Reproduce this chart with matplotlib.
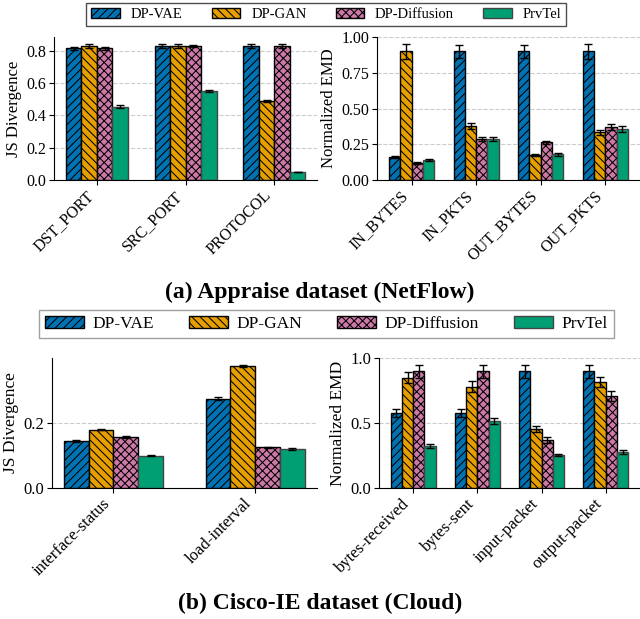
import numpy as np
import matplotlib
matplotlib.use("Agg")
import matplotlib.pyplot as plt
from matplotlib.patches import Patch

plt.rcParams.update({
    "font.family": "serif",
    "font.serif": ["Liberation Serif", "DejaVu Serif"],
    "hatch.linewidth": 0.75,
})

methods = ["DP-VAE", "DP-GAN", "DP-Diffusion", "PrvTel"]
COLORS = ["#0072B2", "#E69F00", "#CC79A7", "#009E73"]
HATCHES = ["////", "\\\\\\\\", "xxxx", ""]
EDGES = ["black", "black", "black", "#444444"]

# (a) Appraise dataset (NetFlow)
a_js_feats = ["DST_PORT", "SRC_PORT", "PROTOCOL"]
a_js_vals = [[0.815, 0.83, 0.83],   # DP-VAE
             [0.83, 0.83, 0.49],    # DP-GAN
             [0.815, 0.83, 0.83],   # DP-Diffusion
             [0.455, 0.55, 0.05]]   # PrvTel
a_js_err = [[0.010, 0.012, 0.010],
            [0.010, 0.012, 0.005],
            [0.008, 0.006, 0.010],
            [0.008, 0.008, 0.002]]

a_emd_feats = ["IN_BYTES", "IN_PKTS", "OUT_BYTES", "OUT_PKTS"]
a_emd_vals = [[0.16, 0.90, 0.90, 0.90],
              [0.90, 0.38, 0.175, 0.335],
              [0.12, 0.29, 0.265, 0.37],
              [0.14, 0.29, 0.18, 0.36]]
a_emd_err = [[0.008, 0.045, 0.045, 0.05],
             [0.05, 0.02, 0.008, 0.018],
             [0.006, 0.015, 0.012, 0.02],
             [0.006, 0.015, 0.01, 0.02]]

# (b) Cisco-IE dataset (Cloud)
b_js_feats = ["interface-status", "load-interval"]
b_js_vals = [[0.145, 0.275],
             [0.18, 0.375],
             [0.157, 0.125],
             [0.10, 0.12]]
b_js_err = [[0.002, 0.004],
            [0.002, 0.004],
            [0.002, 0.001],
            [0.002, 0.002]]

b_emd_feats = ["bytes-received", "bytes-sent", "input-packet", "output-packet"]
b_emd_vals = [[0.575, 0.575, 0.90, 0.90],
              [0.85, 0.78, 0.455, 0.815],
              [0.90, 0.90, 0.37, 0.71],
              [0.32, 0.515, 0.255, 0.275]]
b_emd_err = [[0.03, 0.03, 0.05, 0.05],
             [0.04, 0.04, 0.025, 0.04],
             [0.05, 0.05, 0.02, 0.04],
             [0.015, 0.025, 0.01, 0.015]]

W = 0.175


def panel(ax, feats, vals, errs, ylabel, fs, yticks=None, ylim=None, lfs=None):
    x = np.arange(len(feats))
    for i, m in enumerate(methods):
        ax.bar(x + (i - 1.5) * W, vals[i], W, yerr=errs[i], color=COLORS[i],
               hatch=HATCHES[i], edgecolor=EDGES[i], linewidth=1.0,
               error_kw=dict(ecolor="black", elinewidth=1.0, capsize=3, capthick=1.0))
    ax.set_xticks(x)
    ax.set_xticklabels(feats, rotation=45, ha="right", fontsize=fs)
    ax.tick_params(axis="y", labelsize=fs, pad=2)
    ax.tick_params(axis="x", pad=2)
    ax.set_ylabel(ylabel, fontsize=lfs or fs, labelpad=3)
    if ylim is not None:
        ax.set_ylim(*ylim)
    if yticks is not None:
        ax.set_yticks(yticks)
    ax.yaxis.grid(True, linestyle="--", color="#cccccc", linewidth=0.8)
    ax.set_axisbelow(True)
    for s in ("top", "right"):
        ax.spines[s].set_visible(False)


fig = plt.figure(figsize=(6.4, 6.19), dpi=100)

ax1 = fig.add_axes([0.084, 0.709, 0.412, 0.231])
panel(ax1, a_js_feats, a_js_vals, a_js_err, "JS Divergence", 11.5,
      yticks=[0.0, 0.2, 0.4, 0.6, 0.8], lfs=12)
ax2 = fig.add_axes([0.589, 0.709, 0.411, 0.231])
panel(ax2, a_emd_feats, a_emd_vals, a_emd_err, "Normalized EMD", 11.5,
      yticks=[0.0, 0.25, 0.5, 0.75, 1.0], ylim=(0, 1.0), lfs=12)
ax2.set_yticklabels(["0.00", "0.25", "0.50", "0.75", "1.00"])

ax3 = fig.add_axes([0.081, 0.2116, 0.414, 0.210])
panel(ax3, b_js_feats, b_js_vals, b_js_err, "JS Divergence", 12,
      yticks=[0.0, 0.2], ylim=(0, 0.4), lfs=12.5)
ax4 = fig.add_axes([0.592, 0.2116, 0.408, 0.210])
panel(ax4, b_emd_feats, b_emd_vals, b_emd_err, "Normalized EMD", 12,
      yticks=[0.0, 0.5, 1.0], ylim=(0, 1.0), lfs=12.5)

handles = [Patch(facecolor=COLORS[i], hatch=HATCHES[i], edgecolor=EDGES[i], label=m)
           for i, m in enumerate(methods)]

leg1 = fig.legend(handles=handles, loc="upper center", bbox_to_anchor=(0.51, 1 - 3 / 619),
                  ncol=4, fontsize=10.5, frameon=True, fancybox=False,
                  edgecolor="#222222", handlelength=1.95, columnspacing=2.0,
                  borderpad=0.35, handletextpad=0.75, borderaxespad=0)
leg1.get_frame().set_linewidth(1.0)

leg2 = fig.legend(handles=handles, loc="upper center", bbox_to_anchor=(0.51, 1 - 310 / 619),
                  ncol=4, fontsize=12.5, frameon=True, fancybox=False,
                  edgecolor="#888888", handlelength=2.25, columnspacing=2.0,
                  borderpad=0.35, handletextpad=0.5, borderaxespad=0)
leg2.get_frame().set_linewidth(1.0)

fig.text(0.5, 1 - 292 / 619, "(a) Appraise dataset (NetFlow)", ha="center", va="center",
         fontsize=17, fontweight="bold")
fig.text(0.5, 1 - 603 / 619, "(b) Cisco-IE dataset (Cloud)", ha="center", va="center",
         fontsize=17, fontweight="bold")

fig.savefig("out.png", dpi=100)
